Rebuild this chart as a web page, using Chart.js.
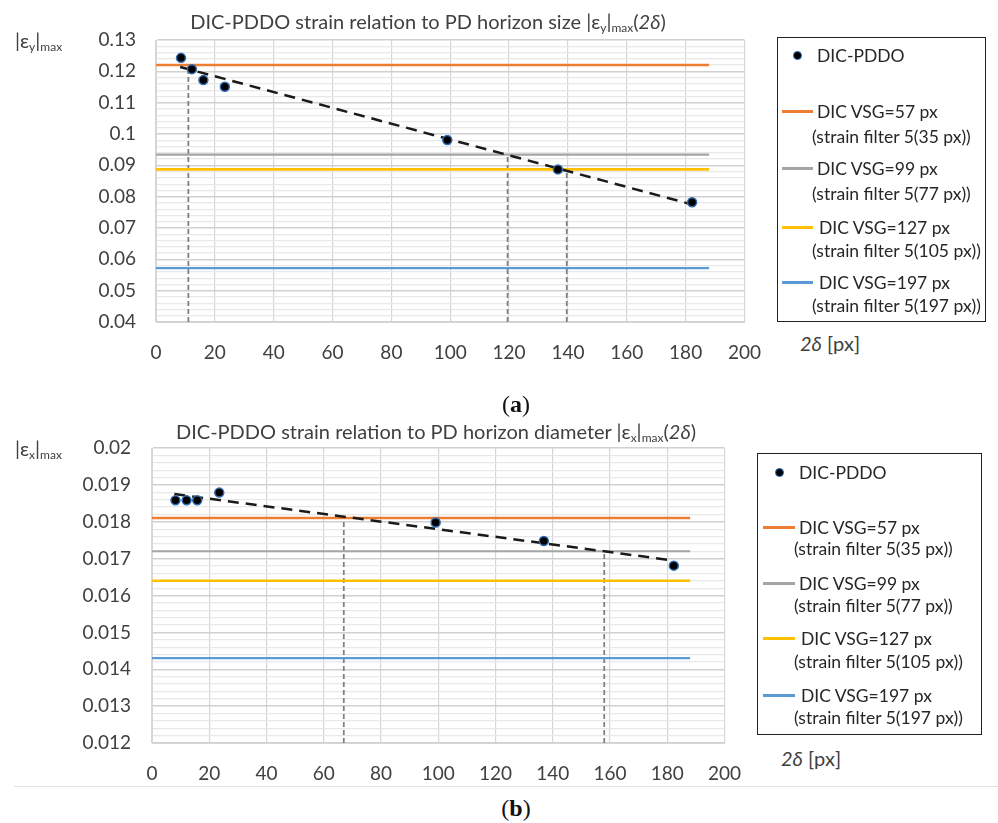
<!DOCTYPE html>
<html>
<head>
<meta charset="utf-8">
<script src="https://cdn.jsdelivr.net/npm/chart.js@4.4.1/dist/chart.umd.min.js"></script>
<style>
  body { margin: 0; background: #fff; width: 998px; height: 823px; position: relative; overflow: hidden;
         font-family: Lato, "Open Sans", sans-serif; color: #404040; }
  canvas { position: absolute; }
  .t { position: absolute; white-space: nowrap; line-height: 1; }
  .title { font-size: 20px; transform: translateX(-50%); }
  .ylab { font-size: 20px; }
  sub { font-size: 12px; vertical-align: -3px; }
  .box { position: absolute; border: 1.5px solid #222; box-sizing: border-box; }
  .leg { position: absolute; font-size: 17.5px; color: #262626; white-space: nowrap; transform: translateY(-50%); }
  .sw { position: absolute; height: 2.5px; }
  .dot { position: absolute; width: 9px; height: 9px; border-radius: 50%; background: #000; border: 1.5px solid #2f6db5; box-sizing: border-box; }
  .cap { position: absolute; font-family: "Liberation Serif", serif; font-size: 24px; color: #111; transform: translateX(-50%); }
  .sep { position: absolute; left: 14px; right: 0; top: 786px; height: 1px; background: #e2e2e2; }
</style>
</head>
<body>
<canvas id="cA" width="780" height="370" style="left:0;top:0"></canvas>
<canvas id="cB" width="760" height="376" style="left:0;top:410px"></canvas>

<div class="t title" style="left:428px;top:11px">DIC-PDDO strain relation to PD horizon size |ε<sub>y</sub>|<sub>max</sub>(<i>2δ</i>)</div>
<div class="t ylab" style="left:15px;top:30px">|ε<sub>y</sub>|<sub>max</sub></div>
<div class="t ylab" style="left:800px;top:333px"><i>2δ</i> [px]</div>
<div class="cap" style="left:516px;top:391px">(<b>a</b>)</div>

<div class="t title" style="left:436px;top:421px">DIC-PDDO strain relation to PD horizon diameter |ε<sub>x</sub>|<sub>max</sub>(<i>2δ</i>)</div>
<div class="t ylab" style="left:15px;top:438px">|ε<sub>x</sub>|<sub>max</sub></div>
<div class="t ylab" style="left:781px;top:748px"><i>2δ</i> [px]</div>
<div class="sep"></div>
<div class="cap" style="left:516px;top:795px">(<b>b</b>)</div>

<script>
// shared x axis
const xTicks = [0, 20, 40, 60, 80, 100, 120, 140, 160, 180, 200];

// legend / reference line labels
const seriesName = 'DIC-PDDO';
const refNames = ['DIC VSG=57 px', 'DIC VSG=99 px', 'DIC VSG=127 px', 'DIC VSG=197 px'];
const refFilters = ['(strain filter 5(35 px))', '(strain filter 5(77 px))', '(strain filter 5(105 px))', '(strain filter 5(197 px))'];
const refColors = ['#ED7D31', '#A5A5A5', '#FFC000', '#5B9BD5'];

// (a) |eps_y|max
const yLabelsA = ['0.04', '0.05', '0.06', '0.07', '0.08', '0.09', '0.1', '0.11', '0.12', '0.13'];
const horizonA = [8.5, 12.2, 16.1, 23.4, 99, 136.6, 182.2];
const strainA = [0.1243, 0.1207, 0.1172, 0.1151, 0.0981, 0.0887, 0.0782];
const trendXA = [8.2, 182.2];
const trendYA = [0.1214, 0.0775];
const levelsA = [0.1220, 0.0934, 0.0887, 0.0572];
const dropXA = [11, 119.5, 139.6];
const dropTopA = [0.1212, 0.0934, 0.0887];

// (b) |eps_x|max
const yLabelsB = ['0.012', '0.013', '0.014', '0.015', '0.016', '0.017', '0.018', '0.019', '0.02'];
const horizonB = [8.2, 12.1, 15.8, 23.5, 99.1, 136.9, 182.3];
const strainB = [0.01858, 0.01858, 0.01858, 0.01879, 0.01798, 0.01748, 0.01681];
const trendXB = [7.8, 182];
const trendYB = [0.01875, 0.01695];
const levelsB = [0.0181, 0.0172, 0.0164, 0.0143];
const dropXB = [67, 158];
const dropTopB = [0.0181, 0.0172];

const levelRange = [0, 188];

function isMajor(v, labels) {
  return labels.some(l => Math.abs(Number(l) - v) < 1e-7);
}

function makeChart(id, o) {
  const ds = [];
  ds.push({
    label: seriesName, order: -1, showLine: false,
    data: o.px.map((x, i) => ({ x: x, y: o.py[i] })),
    pointRadius: 4.5, pointBackgroundColor: '#000', pointBorderColor: '#2f6db5', pointBorderWidth: 1.5
  });
  ds.push({
    label: 'trend', order: 0, showLine: true, pointRadius: 0,
    data: o.tx.map((x, i) => ({ x: x, y: o.ty[i] })),
    borderColor: '#1a1a1a', borderWidth: 2.5, borderDash: [11, 7]
  });
  o.levels.forEach((lv, i) => ds.push({
    label: refNames[i], order: 1, showLine: true, pointRadius: 0,
    data: levelRange.map(x => ({ x: x, y: lv })),
    borderColor: refColors[i], borderWidth: i === 1 || i === 3 ? 2.2 : 2.6
  }));
  o.dropX.forEach((dx, i) => ds.push({
    label: 'drop', order: 2, showLine: true, pointRadius: 0,
    data: [{ x: dx, y: o.yMin }, { x: dx, y: o.dropTop[i] }],
    borderColor: '#808080', borderWidth: 1.8, borderDash: [5, 3]
  }));

  return new Chart(document.getElementById(id), {
    type: 'scatter',
    data: { datasets: ds },
    options: {
      responsive: false, animation: false, devicePixelRatio: 1,
      layout: { padding: o.pad },
      plugins: { legend: { display: false }, tooltip: { enabled: false }, title: { display: false } },
      scales: {
        x: {
          type: 'linear', min: 0, max: 200,
          afterBuildTicks: s => { s.ticks = xTicks.map(v => ({ value: v })); },
          afterFit: s => { s.height = 43; },
          grid: { color: '#d6d6d6', lineWidth: 1.2, drawTicks: false },
          border: { color: '#d6d6d6' },
          ticks: { padding: 19, color: '#404040', font: { family: 'Lato', size: 19 }, autoSkip: false, maxRotation: 0 }
        },
        y: {
          type: 'linear', min: o.yMin, max: o.yMax,
          ticks: {
            stepSize: o.minor, autoSkip: false, padding: o.ypad, color: '#404040',
            font: { family: 'Lato', size: 19 },
            callback: v => {
              const l = o.labels.find(s => Math.abs(Number(s) - v) < 1e-7);
              return l === undefined ? '' : l;
            }
          },
          afterFit: s => { s.width = o.left; },
          grid: {
            drawTicks: false,
            color: c => isMajor(c.tick.value, o.labels) ? '#d0d0d0' : '#e8e8e8',
            lineWidth: c => isMajor(c.tick.value, o.labels) ? 1.5 : 1.2
          },
          border: { color: '#d6d6d6' }
        }
      }
    }
  });
}

makeChart('cA', {
  px: horizonA, py: strainA, tx: trendXA, ty: trendYA, levels: levelsA,
  dropX: dropXA, dropTop: dropTopA, labels: yLabelsA,
  yMin: 0.04, yMax: 0.13, minor: 0.002, left: 156, ypad: 20,
  pad: { left: 0, top: 40, right: 12, bottom: 5 }
});
makeChart('cB', {
  px: horizonB, py: strainB, tx: trendXB, ty: trendYB, levels: levelsB,
  dropX: dropXB, dropTop: dropTopB, labels: yLabelsB,
  yMin: 0.012, yMax: 0.02, minor: 0.0002, left: 152, ypad: 21,
  pad: { left: 0, top: 38, right: 13, bottom: 0 }
});

// legends (HTML overlays)
function legend(b) {
  const box = document.createElement('div');
  box.className = 'box';
  Object.assign(box.style, { left: b.x0 + 'px', top: b.y0 + 'px', width: (b.x1 - b.x0) + 'px', height: (b.y1 - b.y0) + 'px' });
  document.body.appendChild(box);
  const add = (cls, css, html) => {
    const e = document.createElement('div');
    e.className = cls; Object.assign(e.style, css);
    if (html) e.textContent = html;
    document.body.appendChild(e);
  };
  add('dot', { left: (b.dotX - 4.5) + 'px', top: (b.dotY - 4.5) + 'px' });
  add('leg', { left: b.textX + 'px', top: b.dotY + 'px' }, seriesName);
  refNames.forEach((n, i) => {
    add('sw', { left: b.swX0 + 'px', width: (b.swX1 - b.swX0) + 'px', top: (b.rows[i][0] - 1) + 'px', background: refColors[i] });
    add('leg', { left: (b.textX + (i >= 2 ? 2 : 0)) + 'px', top: b.rows[i][0] + 'px' }, n);
    add('leg', { left: b.subX + 'px', top: b.rows[i][1] + 'px' }, refFilters[i]);
  });
}
legend({ x0: 777, y0: 37, x1: 986, y1: 322, dotX: 797, dotY: 55, textX: 817, swX0: 782, swX1: 813, subX: 812,
         rows: [[111, 136], [168, 193], [227, 250], [282, 305]] });
legend({ x0: 757, y0: 453, x1: 982, y1: 735, dotX: 779, dotY: 472, textX: 799, swX0: 763, swX1: 795, subX: 794,
         rows: [[527, 548], [583, 605], [638, 661], [695, 717]] });
</script>
</body>
</html>
